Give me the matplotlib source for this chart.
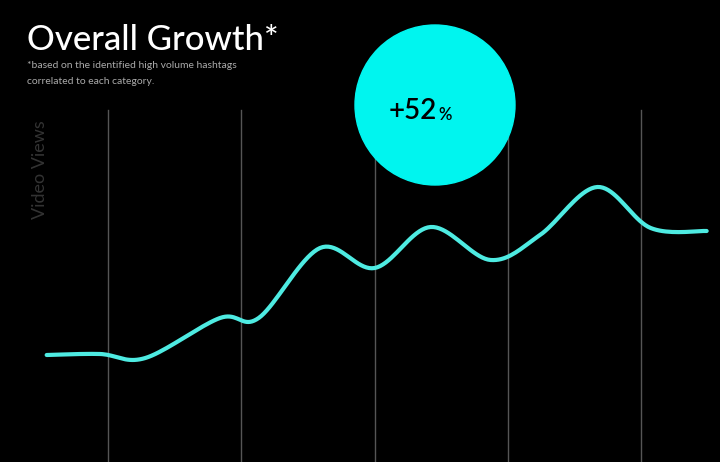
import numpy as np
import matplotlib
matplotlib.use("Agg")
import matplotlib.pyplot as plt
from matplotlib.patches import Ellipse

periods = [0.54, 0.94, 1.28, 1.84, 2.13, 2.59, 3.0, 3.42, 3.87, 4.24, 4.67, 5.07, 5.49]
views = [107, 108, 104, 144, 144, 214, 194, 235, 202, 227, 275, 234, 231]
grid_x = [1, 2, 3, 4, 5]
growth_label = "+52"

def smooth(x, y, n=20):
    x = np.asarray(x, float); y = np.asarray(y, float)
    px = np.concatenate([[x[0]], x, [x[-1]]]); py = np.concatenate([[y[0]], y, [y[-1]]])
    xs, ys = [], []
    for i in range(1, len(px) - 2):
        t = np.linspace(0, 1, n, endpoint=False)
        for arr, out in ((px, xs), (py, ys)):
            p0, p1, p2, p3 = arr[i-1], arr[i], arr[i+1], arr[i+2]
            out.extend(0.5*((2*p1) + (-p0+p2)*t + (2*p0-5*p1+4*p2-p3)*t**2 + (-p0+3*p1-3*p2+p3)*t**3))
    xs.append(x[-1]); ys.append(y[-1])
    return xs, ys

fig = plt.figure(figsize=(7.2, 4.62), dpi=100, facecolor="black")
ax = fig.add_axes([0, 0, 1, 1])
ax.set_facecolor("black")
ax.set_xlim(0.19, 5.59)
ax.set_ylim(0, 462)
ax.axis("off")
for g in grid_x:
    ax.plot([g, g], [0, 352], color="#555555", lw=1)
sx, sy = smooth(periods, views)
ax.plot(sx, sy, color="#4EEBE2", lw=3, solid_capstyle="round", zorder=3)

fig.add_artist(Ellipse((435/720, 1-105/462), 160/720, 160/462, transform=fig.transFigure,
                       color="#00F5EF", zorder=4))
fig.text(435/720 + 0.003, 1-111/462, growth_label, color="black", fontsize=20, fontweight="semibold",
         ha="right", va="center", zorder=5, family="Lato")
fig.text(435/720 + 0.005, 1-115/462, "%", color="black", fontsize=12, fontweight="semibold",
         ha="left", va="center", zorder=5, family="Lato")

fig.text(27/720, 1-40/462, "Overall Growth*", color="white", fontsize=25, fontweight="medium",
         ha="left", va="center", family="Lato")
fig.text(27/720, 1-66/462, "*based on the identified high volume hashtags", color="#aaaaaa",
         fontsize=7.5, ha="left", va="center", family="Lato")
fig.text(27/720, 1-82/462, "correlated to each category.", color="#aaaaaa",
         fontsize=7.5, ha="left", va="center", family="Lato")
fig.text(40/720, 1-170/462, "Video Views", color="#333333", fontsize=13, rotation=90,
         ha="center", va="center", family="Lato")
fig.savefig("out.png", dpi=100, facecolor="black")
